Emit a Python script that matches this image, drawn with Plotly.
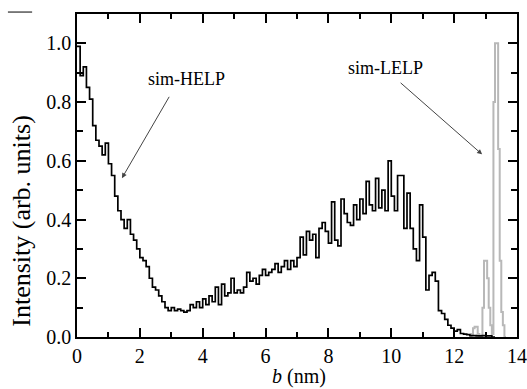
import numpy as np
import plotly.graph_objects as go

# ---------------- data ----------------
# sim-HELP histogram: bins of 0.1 nm starting at b = 0
help_bin_start = 0.0
help_bin_width = 0.1
help_values = [
    0.99, 0.89, 0.92, 0.85, 0.81, 0.72, 0.67, 0.65, 0.62, 0.66,   # 0.0 - 0.9
    0.59, 0.55, 0.48, 0.43, 0.40, 0.37, 0.40, 0.35, 0.33, 0.30,   # 1.0 - 1.9
    0.27, 0.26, 0.24, 0.20, 0.17, 0.16, 0.14, 0.12, 0.10, 0.09,   # 2.0 - 2.9
    0.10, 0.09, 0.095, 0.09, 0.085, 0.09, 0.11, 0.10, 0.12, 0.10, # 3.0 - 3.9
    0.13, 0.11, 0.14, 0.12, 0.17, 0.11, 0.18, 0.14, 0.15, 0.20,   # 4.0 - 4.9
    0.15, 0.16, 0.15, 0.17, 0.22, 0.19, 0.20, 0.18, 0.21, 0.23,   # 5.0 - 5.9
    0.21, 0.22, 0.23, 0.25, 0.22, 0.24, 0.26, 0.23, 0.26, 0.24,   # 6.0 - 6.9
    0.27, 0.34, 0.28, 0.36, 0.33, 0.35, 0.27, 0.37, 0.39, 0.36,   # 7.0 - 7.9
    0.32, 0.46, 0.33, 0.31, 0.47, 0.42, 0.39, 0.38, 0.45, 0.40,   # 8.0 - 8.9
    0.47, 0.42, 0.53, 0.45, 0.43, 0.54, 0.44, 0.50, 0.43, 0.60,   # 9.0 - 9.9
    0.48, 0.43, 0.55, 0.55, 0.37, 0.49, 0.37, 0.30, 0.26, 0.45,   # 10.0 - 10.9
    0.34, 0.16, 0.21, 0.22, 0.19, 0.09, 0.08, 0.06, 0.04, 0.03,   # 11.0 - 11.9
    0.02, 0.025, 0.012, 0.01, 0.008, 0.005, 0.005, 0.004, 0.004, 0.005,  # 12.0 - 12.9
    0.004, 0.004, 0.0,                                            # 13.0 - 13.2
]

# sim-LELP histogram: bins of 0.05 nm starting at b = 12.5
lelp_bin_start = 12.5
lelp_bin_width = 0.05
lelp_values = [
    0.0, 0.01, 0.03, 0.035, 0.035, 0.01, 0.0, 0.005,   # 12.50 - 12.85
    0.10, 0.26, 0.26, 0.20, 0.10, 0.04, 0.01,          # 12.90 - 13.20
    0.80, 1.00, 1.00, 0.64, 0.26, 0.085, 0.04, 0.0,     # 13.25 - 13.60
]

x_tick_vals = [0, 2, 4, 6, 8, 10, 12, 14]
y_tick_vals = [0.0, 0.2, 0.4, 0.6, 0.8, 1.0]


def step_xy(start, width, vals):
    edges = start + width * np.arange(len(vals) + 1)
    ys = list(vals) + [vals[-1]]
    return edges, ys


hx, hy = step_xy(help_bin_start, help_bin_width, help_values)
lx, ly = step_xy(lelp_bin_start, lelp_bin_width, lelp_values)

FONT = "Liberation Serif"

fig = go.Figure()
fig.add_trace(go.Scatter(x=lx, y=ly, mode="lines", line_shape="hv",
                         line=dict(color="#b8b8b8", width=2), showlegend=False))
fig.add_trace(go.Scatter(x=hx, y=hy, mode="lines", line_shape="hv",
                         line=dict(color="black", width=1.7), showlegend=False))

axis_common = dict(
    showgrid=False, zeroline=False, showline=True, linecolor="black", linewidth=1.5,
    mirror="allticks", ticks="inside", tickcolor="black", tickwidth=1.5, ticklen=9,
    tickfont=dict(family=FONT, size=20, color="black"),
)
fig.update_xaxes(range=[0, 14], tickvals=x_tick_vals,
                 minor=dict(dtick=1, tick0=0, ticks="inside", ticklen=5,
                            tickcolor="black", tickwidth=1.5),
                 **axis_common)
fig.update_yaxes(range=[0, 1.1], tickvals=y_tick_vals, tickformat=".1f",
                 minor=dict(dtick=0.1, tick0=0, ticks="inside", ticklen=6,
                            tickcolor="black", tickwidth=1.5),
                 **axis_common)

arrow_color = "#444444"
annotations = [
    dict(text="sim-HELP", x=3.47, y=0.88, xref="x", yref="y", showarrow=False,
         font=dict(family=FONT, size=18, color="black")),
    dict(text="sim-LELP", x=9.8, y=0.915, xref="x", yref="y", showarrow=False,
         font=dict(family=FONT, size=18, color="black")),
    dict(text="", x=1.43, y=0.541, ax=2.96, ay=0.823, xref="x", yref="y",
         axref="x", ayref="y", showarrow=True, arrowhead=2, arrowsize=1,
         arrowwidth=1, arrowcolor=arrow_color),
    dict(text="", x=12.89, y=0.622, ax=10.25, ay=0.87, xref="x", yref="y",
         axref="x", ayref="y", showarrow=True, arrowhead=2, arrowsize=1,
         arrowwidth=1, arrowcolor=arrow_color),
    dict(text="Intensity (arb. units)", x=-0.125, y=0.36, xref="paper", yref="paper",
         textangle=-90, showarrow=False, xanchor="center", yanchor="middle",
         font=dict(family=FONT, size=26, color="black")),
    dict(text="<i>b</i> (nm)", x=0.505, y=-0.121, xref="paper", yref="paper",
         showarrow=False, xanchor="center", yanchor="middle",
         font=dict(family=FONT, size=20, color="black")),
]

fig.update_layout(
    width=527, height=389,
    margin=dict(l=77, r=10, t=14, b=52, autoexpand=False),
    paper_bgcolor="white", plot_bgcolor="white",
    annotations=annotations,
    shapes=[dict(type="line", xref="paper", yref="paper", x0=-0.157, x1=-0.102,
                 y0=1.006, y1=1.006, line=dict(color="#555555", width=1.5))],
)

fig.write_html("out.html")
